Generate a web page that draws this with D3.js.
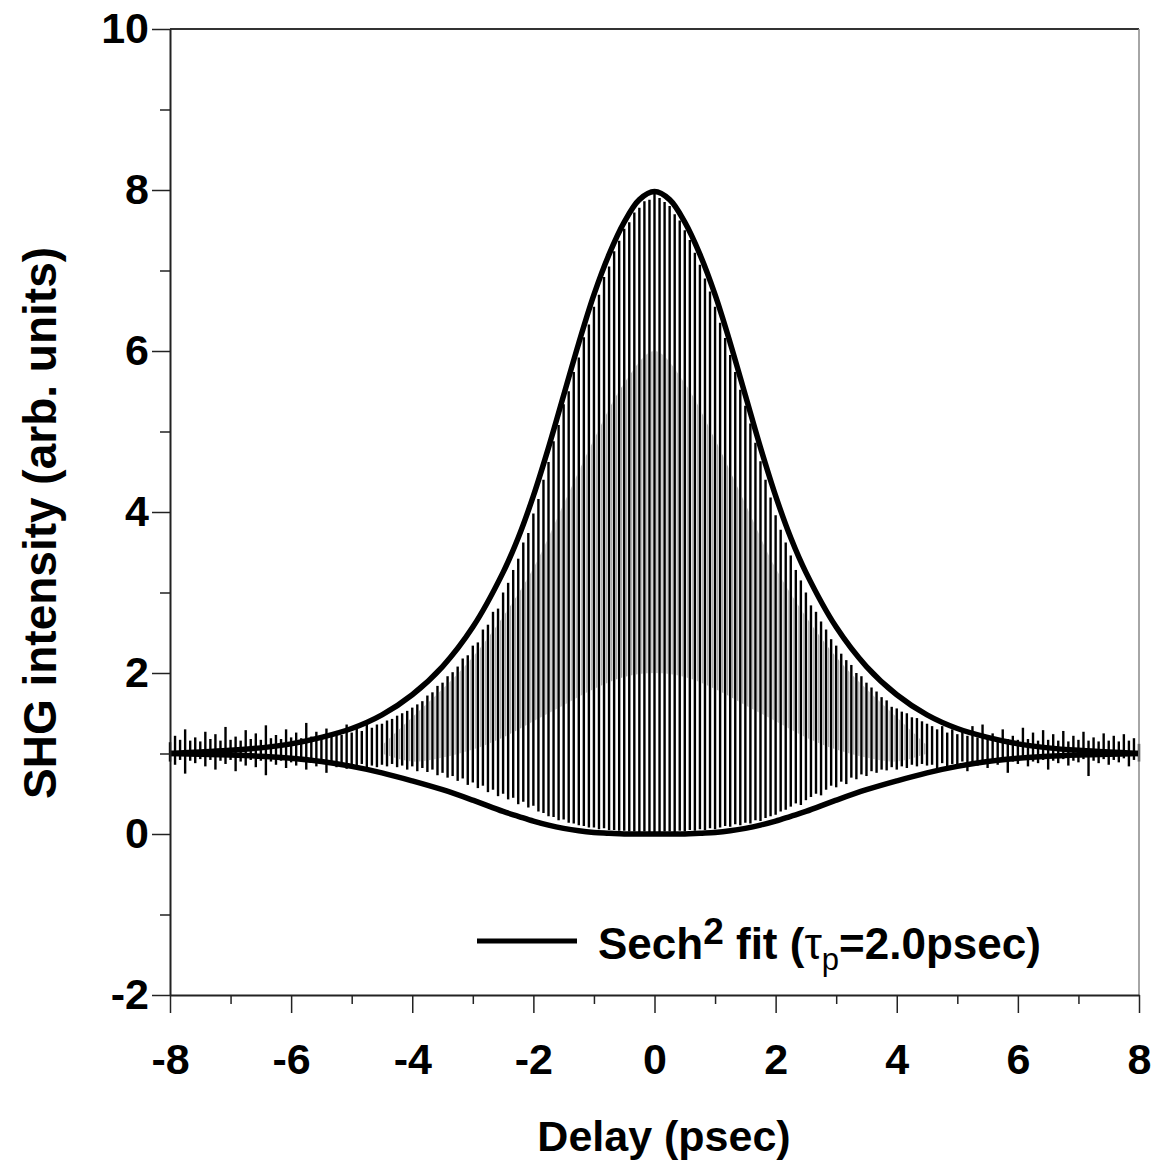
<!DOCTYPE html>
<html>
<head>
<meta charset="utf-8">
<script src="https://cdn.jsdelivr.net/npm/d3@7"></script>
<style>
  body { margin: 0; background: #fff; }
  svg { display: block; font-family: "Liberation Sans", Arial, sans-serif; }
</style>
</head>
<body>
<div id="chart"></div>
<script>
// sech^2 fit envelopes (denser near the peak)
var fitDelay = [-8, -7.5, -7, -6.5, -6, -5.5, -5, -4.5, -4, -3.5, -3, -2.5,
                -2.25, -2, -1.75, -1.5, -1.25, -1, -0.75, -0.5, -0.25, 0, 0.25, 0.5, 0.75, 1, 1.25, 1.5, 1.75, 2, 2.25,
                2.5, 3, 3.5, 4, 4.5, 5, 5.5, 6, 6.5, 7, 7.5, 8];
var fitUpper = [1.0, 1.02, 1.04, 1.07, 1.12, 1.2, 1.31, 1.48, 1.73, 2.08, 2.57, 3.25,
                3.68, 4.2, 4.8, 5.45, 6.1, 6.7, 7.2, 7.6, 7.88, 7.98, 7.88, 7.6, 7.2, 6.7, 6.1, 5.45, 4.8, 4.2, 3.68,
                3.25, 2.57, 2.08, 1.73, 1.48, 1.31, 1.2, 1.12, 1.07, 1.04, 1.02, 1.0];
var fitLower = [1.0, 0.99, 0.98, 0.965, 0.94, 0.9, 0.84, 0.76, 0.66, 0.55, 0.42, 0.28,
                0.22, 0.16, 0.11, 0.07, 0.04, 0.02, 0.01, 0.0, 0.0, 0.0, 0.0, 0.0, 0.01, 0.02, 0.04, 0.07, 0.11, 0.16, 0.22,
                0.28, 0.42, 0.55, 0.66, 0.76, 0.84, 0.9, 0.94, 0.965, 0.98, 0.99, 1.0];

// lighter (undersampled) fringe band inside the trace
var grayDelay  = [-4.5, -4, -3.5, -3, -2.5, -2, -1.5, -1, -0.5, 0, 0.5, 1, 1.5, 2, 2.5, 3, 3.5, 4, 4.5];
var grayTop    = [1.1, 1.45, 1.8, 2.2, 2.7, 3.3, 4.1, 4.9, 5.6, 6.0, 5.6, 4.9, 4.1, 3.3, 2.7, 2.2, 1.8, 1.45, 1.1];
var grayBottom = [1.0, 0.9, 0.95, 1.05, 1.2, 1.4, 1.6, 1.8, 1.95, 2.0, 1.95, 1.8, 1.6, 1.4, 1.2, 1.05, 0.95, 0.9, 1.0];

// measured fringes, one every 1/12 psec starting at -8
var fringeStart = -8, fringeStep = 1 / 12;
var leftWingTop = [1.14, 1.22, 1.17, 1.3, 1.16, 1.2, 1.15, 1.27, 1.18, 1.24, 1.16, 1.33, 1.17, 1.21, 1.16, 1.29, 1.18, 1.25, 1.17, 1.35,
                   1.19, 1.23, 1.18, 1.3, 1.2, 1.26, 1.19, 1.38, 1.21, 1.27, 1.2, 1.31, 1.22, 1.28, 1.23, 1.36, 1.26, 1.32, 1.28, 1.36, 1.32, 1.36];
var leftCoreTop = [1.37, 1.41, 1.43, 1.47, 1.5, 1.53, 1.57, 1.61, 1.65, 1.72, 1.76, 1.84, 1.88, 1.96, 2.01, 2.08, 2.18, 2.22, 2.34, 2.38,
                   2.54, 2.6, 2.76, 2.8, 3.0, 3.12, 3.28, 3.42, 3.62, 3.74, 3.98, 4.16, 4.4, 4.62, 4.88, 5.08, 5.34, 5.5, 5.74, 5.92,
                   6.17, 6.33, 6.55, 6.7, 6.92, 7.05, 7.24, 7.37, 7.52, 7.6, 7.72, 7.78, 7.86, 7.88];
var rightCoreTop = [7.95, 7.9, 7.85, 7.8, 7.7, 7.62, 7.5, 7.38, 7.22, 7.07, 6.9, 6.74, 6.55, 6.35, 6.16, 5.95, 5.74, 5.52, 5.32, 5.1,
                    4.86, 4.63, 4.4, 4.18, 3.96, 3.78, 3.62, 3.46, 3.28, 3.15, 3.0, 2.84, 2.76, 2.64, 2.54, 2.42, 2.34, 2.24, 2.16, 2.1,
                    2.0, 1.96, 1.88, 1.82, 1.77, 1.7, 1.66, 1.58, 1.56, 1.52, 1.5, 1.45, 1.44, 1.4, 1.37];
var rightWingTop = [1.34, 1.3, 1.34, 1.26, 1.3, 1.24, 1.29, 1.22, 1.34, 1.2, 1.36, 1.19, 1.25, 1.18, 1.3, 1.18, 1.22, 1.17, 1.32, 1.18,
                    1.26, 1.16, 1.29, 1.17, 1.24, 1.16, 1.28, 1.15, 1.22, 1.17, 1.27, 1.16, 1.2, 1.15, 1.25, 1.16, 1.22, 1.15, 1.24, 1.16, 1.19, 1.12];

var leftWingBottom = [0.9, 0.86, 0.92, 0.75, 0.91, 0.88, 0.93, 0.84, 0.92, 0.8, 0.91, 0.87, 0.92, 0.78, 0.9, 0.85, 0.92, 0.83, 0.91, 0.73,
                      0.9, 0.86, 0.91, 0.82, 0.89, 0.85, 0.9, 0.8, 0.89, 0.84, 0.88, 0.76, 0.87, 0.83, 0.88, 0.81, 0.86, 0.82, 0.87, 0.8, 0.85, 0.83];
var leftCoreBottom = [0.86, 0.84, 0.87, 0.83, 0.85, 0.8, 0.84, 0.78, 0.82, 0.77, 0.8, 0.73, 0.76, 0.7, 0.72, 0.66, 0.69, 0.61, 0.64, 0.57,
                      0.6, 0.52, 0.55, 0.47, 0.5, 0.43, 0.45, 0.37, 0.4, 0.33, 0.35, 0.28, 0.26, 0.22, 0.21, 0.17, 0.18, 0.14, 0.13, 0.11,
                      0.1, 0.08, 0.08, 0.06, 0.07, 0.05, 0.05, 0.04, 0.04, 0.03, 0.03, 0.02, 0.03, 0.02];
var rightCoreBottom = [0.02, 0.02, 0.03, 0.03, 0.02, 0.04, 0.03, 0.05, 0.04, 0.06, 0.05, 0.07, 0.06, 0.08, 0.1, 0.09, 0.12, 0.11, 0.14, 0.13,
                       0.17, 0.16, 0.2, 0.22, 0.24, 0.28, 0.3, 0.34, 0.38, 0.36, 0.42, 0.46, 0.5, 0.48, 0.55, 0.6, 0.58, 0.65, 0.62, 0.7,
                       0.68, 0.74, 0.72, 0.78, 0.76, 0.8, 0.79, 0.83, 0.8, 0.84, 0.82, 0.86, 0.84, 0.87, 0.85];
var rightWingBottom = [0.86, 0.82, 0.88, 0.8, 0.87, 0.84, 0.9, 0.78, 0.88, 0.85, 0.9, 0.82, 0.89, 0.86, 0.91, 0.76, 0.9, 0.87, 0.92, 0.84,
                       0.9, 0.88, 0.92, 0.8, 0.91, 0.88, 0.93, 0.85, 0.91, 0.89, 0.93, 0.72, 0.91, 0.88, 0.93, 0.86, 0.92, 0.89, 0.94, 0.84, 0.92, 0.9];

var fringeTop = leftWingTop.concat(leftCoreTop, rightCoreTop, rightWingTop);
var fringeBottom = leftWingBottom.concat(leftCoreBottom, rightCoreBottom, rightWingBottom);

var xTicks = [-8, -6, -4, -2, 0, 2, 4, 6, 8];
var xMinorTicks = [-7, -5, -3, -1, 1, 3, 5, 7];
var yTicks = [-2, 0, 2, 4, 6, 8, 10];
var yMinorTicks = [-1, 1, 3, 5, 7, 9];

var AutocorrChart = function (element) {
  this.svg = d3.select(element).append("svg")
    .attr("width", 1157)
    .attr("height", 1168);
  this.x = d3.scaleLinear().domain([-8, 8]).range([170, 1139]);
  this.y = d3.scaleLinear().domain([-2, 10]).range([995, 29]);
};

AutocorrChart.prototype = {
  drawGray: function () {
    var x = this.x, y = this.y
      , pitch = x(fringeStep) - x(0);

    this.svg.append("defs").append("pattern")
      .attr("id", "gray-fringe")
      .attr("patternUnits", "userSpaceOnUse")
      .attr("x", x(0) + pitch / 2 - 0.6)
      .attr("width", pitch)
      .attr("height", 10)
      .append("rect")
      .attr("width", 1.2)
      .attr("height", 10)
      .attr("fill", "#a6a6a6");

    var area = d3.area()
      .x(function (d, i) { return x(grayDelay[i]); })
      .y0(function (d, i) { return y(grayBottom[i]); })
      .y1(function (d) { return y(d); })
      .curve(d3.curveCatmullRom);

    this.svg.append("path")
      .attr("d", area(grayTop))
      .attr("fill", "url(#gray-fringe)");
  },

  drawFringes: function () {
    var x = this.x, y = this.y;
    var fringes = fringeTop.map(function (t, i) {
      return { delay: fringeStart + i * fringeStep, top: t, bottom: fringeBottom[i] };
    });

    this.svg.append("g")
      .selectAll("line")
      .data(fringes)
      .join("line")
      .attr("x1", function (d) { return x(d.delay); })
      .attr("x2", function (d) { return x(d.delay); })
      .attr("y1", function (d) { return y(d.bottom); })
      .attr("y2", function (d) { return y(d.top); })
      .attr("stroke", "#000")
      .attr("stroke-width", 2.4);
  },

  drawFit: function () {
    var x = this.x, y = this.y;
    var line = d3.line()
      .x(function (d, i) { return x(fitDelay[i]); })
      .y(function (d) { return y(d); })
      .curve(d3.curveCatmullRom.alpha(0.5));

    [fitUpper, fitLower].forEach(function (series) {
      this.svg.append("path")
        .attr("d", line(series))
        .attr("fill", "none")
        .attr("stroke", "#000")
        .attr("stroke-width", 5.5)
        .attr("stroke-linejoin", "round");
    }, this);
  },

  drawAxes: function () {
    var x = this.x, y = this.y, svg = this.svg
      , label = function (d) { return String(d); };

    // frame top and right
    svg.append("line").attr("x1", x(-8)).attr("x2", x(8)).attr("y1", y(10)).attr("y2", y(10))
      .attr("stroke", "#333").attr("stroke-width", 2);
    svg.append("line").attr("x1", x(8)).attr("x2", x(8)).attr("y1", y(10)).attr("y2", y(-2))
      .attr("stroke", "#888").attr("stroke-width", 1.5);

    var gx = svg.append("g").attr("transform", "translate(0," + y(-2) + ")")
      .call(d3.axisBottom(x).tickValues(xTicks).tickSize(18).tickSizeOuter(0).tickFormat(label));
    svg.append("g").attr("transform", "translate(0," + y(-2) + ")")
      .call(d3.axisBottom(x).tickValues(xMinorTicks).tickSize(9).tickSizeOuter(0).tickFormat(""))
      .select(".domain").remove();
    gx.selectAll("text").attr("y", 79).attr("dy", 0);

    svg.append("g").attr("transform", "translate(" + x(-8) + ",0)")
      .call(d3.axisLeft(y).tickValues(yTicks).tickSize(18).tickSizeOuter(0).tickPadding(3).tickFormat(label));
    svg.append("g").attr("transform", "translate(" + x(-8) + ",0)")
      .call(d3.axisLeft(y).tickValues(yMinorTicks).tickSize(10).tickSizeOuter(0).tickFormat(""))
      .select(".domain").remove();

    svg.selectAll(".domain").attr("stroke", "#222").attr("stroke-width", 2);
    svg.selectAll(".tick line").attr("stroke", "#222").attr("stroke-width", 1.5);
    svg.selectAll(".tick text")
      .attr("font-family", "'Liberation Sans', Arial, sans-serif")
      .attr("font-size", 43)
      .attr("font-weight", "bold")
      .attr("fill", "#000");

    svg.append("text")
      .attr("x", 664)
      .attr("y", 1151)
      .attr("text-anchor", "middle")
      .attr("font-size", 43)
      .attr("font-weight", "bold")
      .text("Delay (psec)");

    svg.append("text")
      .attr("transform", "translate(56," + 523 + ") rotate(-90)")
      .attr("text-anchor", "middle")
      .attr("font-size", 46)
      .attr("font-weight", "bold")
      .text("SHG intensity (arb. units)");
  },

  drawLegend: function () {
    var svg = this.svg;
    svg.append("line")
      .attr("x1", 477).attr("x2", 577).attr("y1", 941).attr("y2", 941)
      .attr("stroke", "#000").attr("stroke-width", 5);

    var t = svg.append("text")
      .attr("x", 598)
      .attr("y", 959)
      .attr("font-size", 44)
      .attr("font-weight", "bold");
    t.append("tspan").text("Sech");
    t.append("tspan").attr("font-size", 37).attr("dy", -15).text("2");
    t.append("tspan").attr("dy", 15).text(" fit (");
    t.append("tspan").attr("font-weight", "normal").text("\u03C4");
    t.append("tspan").attr("font-size", 31).attr("font-weight", "normal").attr("dy", 11).text("p");
    t.append("tspan").attr("dy", -11).text("=2.0psec)");
  }
};

var chart = new AutocorrChart("#chart");
chart.drawGray();
chart.drawFringes();
chart.drawFit();
chart.drawAxes();
chart.drawLegend();
</script>
</body>
</html>
